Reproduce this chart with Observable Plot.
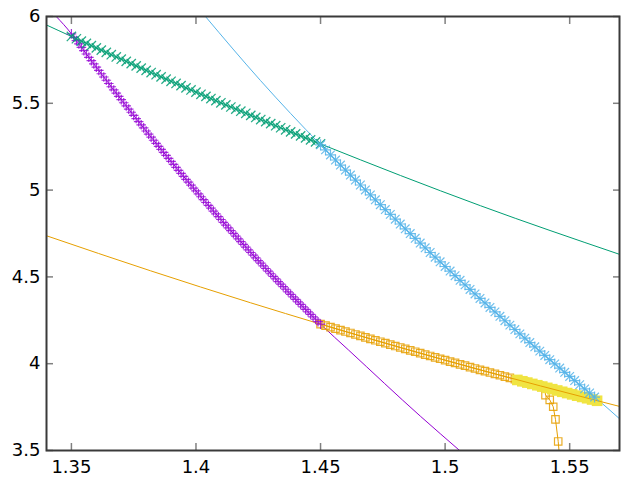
<!DOCTYPE html>
<html><head><meta charset="utf-8">
<script src="https://cdn.jsdelivr.net/npm/d3@7"></script>
<script src="https://cdn.jsdelivr.net/npm/@observablehq/plot@0.6"></script>
<style>html,body{margin:0;padding:0;background:#fff}svg{display:block}</style>
</head><body><div id="chart"></div>
<script>
const xTicks = [1.35, 1.4, 1.45, 1.5, 1.55];
const xTickLabels = ["1.35", "1.4", "1.45", "1.5", "1.55"];
const yTicks = [3.5, 4, 4.5, 5, 5.5, 6];
const yTickLabels = ["3.5", "4", "4.5", "5", "5.5", "6"];

// x positions of the dense markers, branch 1.35 - 1.45 (purple and green)
const lowX = [1.350,1.352,1.354,1.356,1.358,1.360,1.362,1.364,1.366,1.368,
  1.370,1.372,1.374,1.376,1.378,1.380,1.382,1.384,1.386,1.388,
  1.390,1.392,1.394,1.396,1.398,1.400,1.402,1.404,1.406,1.408,
  1.410,1.412,1.414,1.416,1.418,1.420,1.422,1.424,1.426,1.428,
  1.430,1.432,1.434,1.436,1.438,1.440,1.442,1.444,1.446,1.448,1.450];
const purpleY = [5.9000,5.8612,5.8225,5.7841,5.7459,5.7080,5.6702,5.6327,5.5954,5.5583,
  5.5214,5.4848,5.4484,5.4122,5.3762,5.3404,5.3049,5.2696,5.2345,5.1996,
  5.1650,5.1305,5.0963,5.0623,5.0286,4.9950,4.9617,4.9286,4.8957,4.8630,
  4.8306,4.7983,4.7663,4.7346,4.7030,4.6716,4.6405,4.6096,4.5789,4.5485,
  4.5182,4.4882,4.4584,4.4289,4.3995,4.3704,4.3414,4.3128,4.2843,4.2560,4.2280];
// purple markers in between (the purple band is denser)
const purpleMidX = [1.351,1.353,1.355,1.357,1.359,1.361,1.363,1.365,1.367,1.369,
  1.371,1.373,1.375,1.377,1.379,1.381,1.383,1.385,1.387,1.389,
  1.391,1.393,1.395,1.397,1.399,1.401,1.403,1.405,1.407,1.409,
  1.411,1.413,1.415,1.417,1.419,1.421,1.423,1.425,1.427,1.429,
  1.431,1.433,1.435,1.437,1.439,1.441,1.443,1.445,1.447,1.449];
const purpleMidY = [5.8806,5.8418,5.8033,5.7650,5.7269,5.6891,5.6514,5.6140,5.5768,5.5398,
  5.5031,5.4666,5.4303,5.3942,5.3583,5.3226,5.2872,5.2520,5.2170,5.1823,
  5.1477,5.1134,5.0793,5.0454,5.0118,4.9783,4.9451,4.9121,4.8793,4.8468,
  4.8144,4.7823,4.7504,4.7187,4.6873,4.6561,4.6250,4.5943,4.5637,4.5333,
  4.5032,4.4733,4.4436,4.4141,4.3849,4.3559,4.3271,4.2985,4.2701,4.2420];
const greenY = [5.8850,5.8718,5.8585,5.8454,5.8322,5.8191,5.8060,5.7930,5.7800,5.7670,
  5.7541,5.7412,5.7283,5.7155,5.7027,5.6900,5.6772,5.6646,5.6519,5.6393,
  5.6267,5.6142,5.6017,5.5892,5.5768,5.5644,5.5520,5.5397,5.5274,5.5151,
  5.5029,5.4907,5.4786,5.4665,5.4544,5.4424,5.4304,5.4184,5.4064,5.3945,
  5.3827,5.3709,5.3591,5.3473,5.3356,5.3239,5.3122,5.3006,5.2890,5.2775,5.2660];

// branch 1.45 - 1.56 (light blue)
const blueX = [1.450,1.452,1.454,1.456,1.458,1.460,1.462,1.464,1.466,1.468,
  1.470,1.472,1.474,1.476,1.478,1.480,1.482,1.484,1.486,1.488,
  1.490,1.492,1.494,1.496,1.498,1.500,1.502,1.504,1.506,1.508,
  1.510,1.512,1.514,1.516,1.518,1.520,1.522,1.524,1.526,1.528,
  1.530,1.532,1.534,1.536,1.538,1.540,1.542,1.544,1.546,1.548,
  1.550,1.552,1.554,1.556,1.558,1.560];
const blueY = [5.2610,5.2317,5.2024,5.1733,5.1443,5.1154,5.0866,5.0579,5.0293,5.0009,
  4.9725,4.9442,4.9161,4.8881,4.8601,4.8323,4.8046,4.7770,4.7495,4.7221,
  4.6948,4.6676,4.6406,4.6136,4.5867,4.5600,4.5334,4.5068,4.4804,4.4541,
  4.4279,4.4018,4.3758,4.3499,4.3242,4.2985,4.2729,4.2475,4.2222,4.1969,
  4.1718,4.1468,4.1219,4.0971,4.0724,4.0478,4.0233,3.9990,3.9747,3.9505,
  3.9265,3.9026,3.8787,3.8550,3.8314,3.8079];

// orange open squares, 1.45 - 1.54, then the steep drop
const orangeX = [1.450,1.452,1.454,1.456,1.458,1.460,1.462,1.464,1.466,1.468,
  1.470,1.472,1.474,1.476,1.478,1.480,1.482,1.484,1.486,1.488,
  1.490,1.492,1.494,1.496,1.498,1.500,1.502,1.504,1.506,1.508,
  1.510,1.512,1.514,1.516,1.518,1.520,1.522,1.524,1.526,1.528,
  1.530,1.532,1.534,1.536,1.538,1.540,
  1.5403,1.5420,1.5434,1.5443,1.5454,1.5460];
const orangeY = [4.2280,4.2194,4.2109,4.2023,4.1938,4.1853,4.1769,4.1684,4.1600,4.1516,
  4.1432,4.1349,4.1265,4.1182,4.1099,4.1017,4.0934,4.0852,4.0770,4.0689,
  4.0607,4.0526,4.0445,4.0364,4.0284,4.0204,4.0123,4.0044,3.9964,3.9885,
  3.9805,3.9726,3.9648,3.9569,3.9491,3.9413,3.9335,3.9258,3.9180,3.9103,
  3.9026,3.8950,3.8873,3.8797,3.8721,3.8646,
  3.819,3.792,3.752,3.679,3.552,3.450];

// yellow filled squares
const yellowX = [1.529,1.531,1.533,1.535,1.537,1.539,1.541,1.543,1.545,1.547,
  1.549,1.551,1.553,1.555,1.557,1.559,1.561];
const yellowY = [3.9065,3.8988,3.8912,3.8835,3.8759,3.8683,3.8608,3.8532,3.8457,3.8382,
  3.8308,3.8233,3.8159,3.8085,3.8011,3.7938,3.7865];

// thin curves: extensions beyond the marker ranges
const purpleLeftX = [1.3439], purpleLeftY = [6.0];
const purpleRightX = [1.4613, 1.4902, 1.5059, 1.5100], purpleRightY = [4.078, 3.696, 3.499, 3.448];
const greenLeftX = [1.3400], greenLeftY = [5.951];
const greenRightX = [1.4821, 1.5142, 1.5700], greenRightY = [5.084, 4.910, 4.630];
const blueLeftX = [1.4038, 1.4259], blueLeftY = [6.0, 5.631];
const blueRightX = [1.5700], blueRightY = [3.683];
const orangeFitX = [1.3400, 1.3818, 1.4219, 1.4500, 1.4821, 1.5142, 1.5383, 1.5700];
const orangeFitY = [4.737, 4.535, 4.351, 4.228, 4.093, 3.964, 3.872, 3.754];

const colors = {purple: "#9400d3", green: "#009e73", blue: "#56b4e9", orange: "#e69f00", yellow: "#f0e442"};

const pts = (xs, ys) => xs.map((x, i) => ({x, y: ys[i]}));
const purple = d3.sort([...pts(lowX, purpleY), ...pts(purpleMidX, purpleMidY)], d => d.x);
const green = pts(lowX, greenY);
const blue = pts(blueX, blueY);
const orange = pts(orangeX, orangeY);
const yellow = pts(yellowX, yellowY);
const purpleLine = [...pts(purpleLeftX, purpleLeftY), ...purple, ...pts(purpleRightX, purpleRightY)];
const greenLine = [...pts(greenLeftX, greenLeftY), ...green, ...pts(greenRightX, greenRightY)];
const blueLine = [...pts(blueLeftX, blueLeftY), ...blue, ...pts(blueRightX, blueRightY)];
const orangeFit = pts(orangeFitX, orangeFitY);

const tickStyle = {stroke: "#808080", strokeWidth: 1.5, fill: "none", label: null};
const xFmt = d => xTickLabels[xTicks.indexOf(d)];
const yFmt = d => yTickLabels[yTicks.indexOf(d)];

const chart = Plot.plot({
  width: 640, height: 480,
  marginLeft: 46, marginRight: 21, marginTop: 16, marginBottom: 30,
  x: {domain: [1.34, 1.57], label: null},
  y: {domain: [3.5, 6], label: null},
  style: {fontFamily: "DejaVu Sans", background: "#fff", color: "#000"},
  marks: [
    Plot.line(purpleLine, {x: "x", y: "y", stroke: colors.purple, strokeWidth: 1, curve: "monotone-x", clip: true}),
    Plot.line(greenLine, {x: "x", y: "y", stroke: colors.green, strokeWidth: 1, curve: "monotone-x", clip: true}),
    Plot.line(blueLine, {x: "x", y: "y", stroke: colors.blue, strokeWidth: 1, curve: "monotone-x", clip: true}),
    Plot.dot(orange, {x: "x", y: "y", symbol: "square", r: 4.2, stroke: colors.orange, fill: "none", strokeWidth: 1.2, strokeOpacity: 0.85, clip: true}),
    Plot.line(orange, {x: "x", y: "y", stroke: colors.orange, strokeWidth: 1, clip: true}),
    Plot.dot(yellow, {x: "x", y: "y", symbol: "square", r: 6, fill: colors.yellow, stroke: "none", clip: true}),
    Plot.line(orangeFit, {x: "x", y: "y", stroke: colors.orange, strokeWidth: 1, curve: "monotone-x", clip: true}),
    Plot.dot(purple, {x: "x", y: "y", symbol: "plus", r: 3.2, stroke: colors.purple, strokeWidth: 1.2, strokeOpacity: 0.8, clip: true}),
    Plot.dot(green, {x: "x", y: "y", symbol: "times", r: 4.3, stroke: colors.green, strokeWidth: 1.3, strokeOpacity: 0.85, clip: true}),
    Plot.dot(blue, {x: "x", y: "y", symbol: "plus", r: 3.6, stroke: colors.blue, strokeWidth: 1.2, strokeOpacity: 0.85, clip: true}),
    Plot.dot(blue, {x: "x", y: "y", symbol: "times", r: 4.0, stroke: colors.blue, strokeWidth: 1.2, strokeOpacity: 0.85, clip: true}),
    Plot.axisX(xTicks, {anchor: "bottom", tickSize: 7, dy: -7, ...tickStyle}),
    Plot.axisX(xTicks, {anchor: "top", tickSize: 7, dy: 7, ...tickStyle}),
    Plot.axisY(yTicks, {anchor: "left", tickSize: 7, dx: 7, ...tickStyle}),
    Plot.axisY(yTicks, {anchor: "right", tickSize: 7, dx: -7, ...tickStyle}),
    Plot.axisX(xTicks, {anchor: "bottom", tickSize: 0, tickPadding: 10, tickFormat: xFmt, fontSize: 18, fill: "#000", label: null}),
    Plot.axisY(yTicks, {anchor: "left", tickSize: 0, tickPadding: 6, tickFormat: yFmt, fontSize: 18, fill: "#000", label: null}),
    Plot.frame({stroke: "#3a3a3a", strokeWidth: 2})
  ]
});
document.getElementById("chart").appendChild(chart);
</script>
</body></html>
